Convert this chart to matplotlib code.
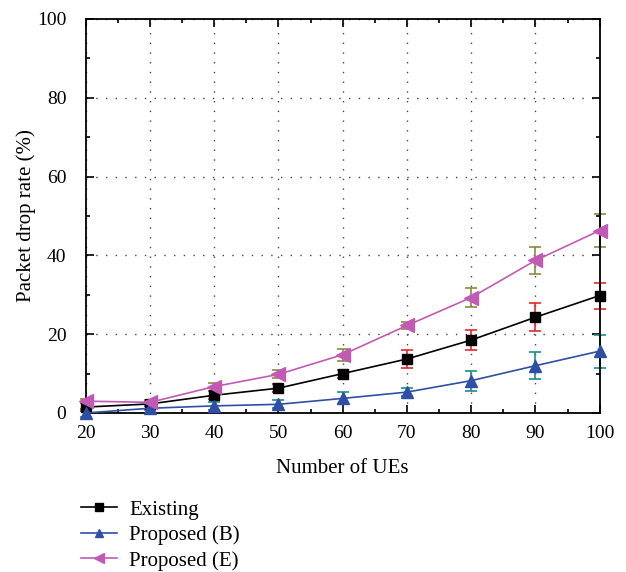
import numpy as np
import matplotlib.pyplot as plt
from matplotlib.ticker import MultipleLocator

plt.rcParams['font.family'] = ['Liberation Serif', 'DejaVu Serif']

# data
ues = [20, 30, 40, 50, 60, 70, 80, 90, 100]
existing = [1.5, 2.3, 4.5, 6.3, 10.0, 13.7, 18.5, 24.3, 29.8]
existing_err = [1.0, 0.5, 1.0, 1.0, 1.0, 2.3, 2.5, 3.5, 3.3]
prop_b = [0.0, 1.2, 1.8, 2.2, 3.7, 5.3, 8.2, 12.0, 15.7]
prop_b_err = [1.0, 0.5, 1.0, 1.0, 1.5, 1.0, 2.5, 3.4, 4.2]
prop_e = [3.0, 2.7, 6.7, 9.8, 14.8, 22.2, 29.3, 38.7, 46.3]
prop_e_err = [0.5, 0.7, 1.0, 1.0, 1.5, 1.0, 2.4, 3.4, 4.2]

fig = plt.figure(figsize=(6.26, 5.72), dpi=100)
ax = fig.add_axes([0.137, 0.278, 0.821, 0.689])

#error bars first, each in its own colour
ax.errorbar(ues, existing, yerr=existing_err, fmt='none', ecolor='#e8262b', elinewidth=1.2, capsize=4, capthick=1.2, zorder=2, clip_on=False)
ax.errorbar(ues, prop_b, yerr=prop_b_err, fmt='none', ecolor='#1a8c8c', elinewidth=1.2, capsize=4, capthick=1.2, zorder=2, clip_on=False)
ax.errorbar(ues, prop_e, yerr=prop_e_err, fmt='none', ecolor='#8a8a40', elinewidth=1.2, capsize=4, capthick=1.2, zorder=2, clip_on=False)

#lines
l1, = ax.plot(ues, existing, color='black', marker='s', markersize=7.5, lw=1.2, label='Existing', zorder=3, clip_on=False)
l2, = ax.plot(ues, prop_b, color='#2e4fa3', marker='^', markersize=8.5, lw=1.2, label='Proposed (B)', zorder=3, clip_on=False)
l3, = ax.plot(ues, prop_e, color='#c25ab5', marker='<', markersize=10, lw=1.2, label='Proposed (E)', zorder=3, clip_on=False)

ax.set_xlim(20, 100)
ax.set_ylim(0, 100)
ax.xaxis.set_major_locator(MultipleLocator(10))
ax.xaxis.set_minor_locator(MultipleLocator(5))
ax.yaxis.set_major_locator(MultipleLocator(20))
ax.yaxis.set_minor_locator(MultipleLocator(10))
ax.tick_params(which='both', direction='in', top=True, right=True, labelsize=14, width=1.2)
ax.tick_params(which='major', length=6)
ax.tick_params(which='minor', length=3)
ax.tick_params(axis='x', pad=9)
ax.tick_params(axis='y', pad=14)
for s in ax.spines.values():
    s.set_linewidth(1.3)
ax.grid(True, which='major', linestyle=(0, (1, 6)), color='#444444', linewidth=1)

ax.set_xlabel('Number of UEs', fontsize=15, labelpad=12)
ax.set_ylabel('Packet drop rate (%)', fontsize=15, labelpad=1)

fig.legend(handles=[l1, l2, l3], loc='upper left', bbox_to_anchor=(0.13, 0.126), frameon=False,
           fontsize=15, handlelength=1.7, labelspacing=0.28, handletextpad=0.6,
           borderpad=0, borderaxespad=0, markerscale=0.75)

fig.savefig('out.png', dpi=100)
